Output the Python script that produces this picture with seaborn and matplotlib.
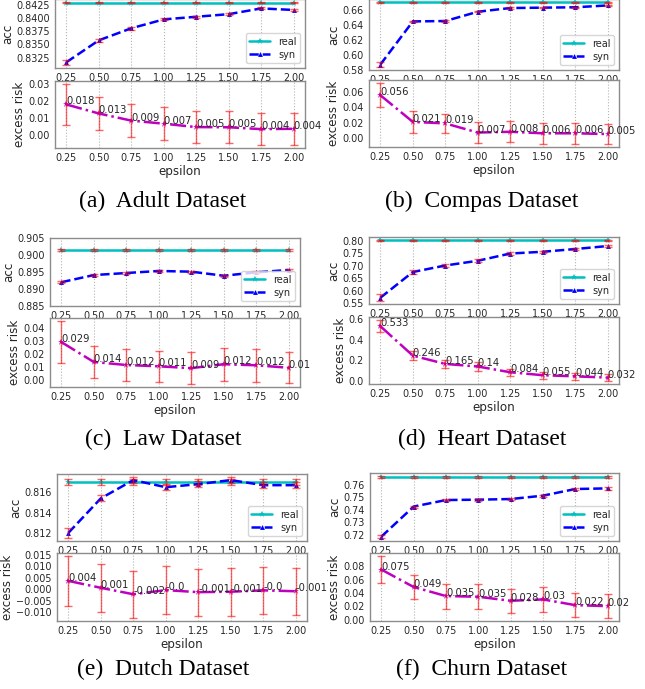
import matplotlib
matplotlib.use('Agg')
import matplotlib.pyplot as plt
import seaborn as sns

eps = [0.25, 0.50, 0.75, 1.00, 1.25, 1.50, 1.75, 2.00]

# (a) Adult
adult_real = [0.8430, 0.8430, 0.8430, 0.8430, 0.8430, 0.8430, 0.8430, 0.8430]
adult_real_err = [0.0001, 0.0001, 0.0001, 0.0001, 0.0001, 0.0001, 0.0001, 0.0001]
adult_syn = [0.8316, 0.8358, 0.8381, 0.8398, 0.8403, 0.8408, 0.8419, 0.8416]
adult_syn_err = [0.0005, 0.0003, 0.0003, 0.0002, 0.0002, 0.0002, 0.0002, 0.0002]
adult_risk = [0.0181, 0.0128, 0.0086, 0.0068, 0.0048, 0.0047, 0.0036, 0.0038]
adult_risk_err = [0.0120, 0.0095, 0.0097, 0.0097, 0.0093, 0.0093, 0.0093, 0.0093]
adult_labels = ['0.018', '0.013', '0.009', '0.007', '0.005', '0.005', '0.004', '0.004']

# (b) Compas
compas_real = [0.6705, 0.6705, 0.6705, 0.6705, 0.6705, 0.6705, 0.6705, 0.6705]
compas_real_err = [0.0003, 0.0003, 0.0003, 0.0003, 0.0003, 0.0003, 0.0003, 0.0003]
compas_syn = [0.5870, 0.6450, 0.6455, 0.6580, 0.6630, 0.6635, 0.6640, 0.6665]
compas_syn_err = [0.0030, 0.0010, 0.0008, 0.0008, 0.0008, 0.0008, 0.0008, 0.0010]
compas_risk = [0.0560, 0.0210, 0.0190, 0.0070, 0.0080, 0.0060, 0.0060, 0.0050]
compas_risk_err = [0.0160, 0.0145, 0.0130, 0.0140, 0.0135, 0.0135, 0.0135, 0.0130]
compas_labels = ['0.056', '0.021', '0.019', '0.007', '0.008', '0.006', '0.006', '0.005']

# (c) Law
law_real = [0.9015, 0.9015, 0.9015, 0.9015, 0.9015, 0.9015, 0.9015, 0.9015]
law_real_err = [0.0002, 0.0002, 0.0002, 0.0002, 0.0002, 0.0002, 0.0002, 0.0002]
law_syn = [0.8920, 0.8941, 0.8947, 0.8953, 0.8951, 0.8939, 0.8949, 0.8956]
law_syn_err = [0.0003, 0.0003, 0.0003, 0.0003, 0.0003, 0.0003, 0.0003, 0.0003]
law_risk = [0.0293, 0.0141, 0.0118, 0.0108, 0.0094, 0.0124, 0.0116, 0.0097]
law_risk_err = [0.0160, 0.0122, 0.0120, 0.0118, 0.0120, 0.0125, 0.0125, 0.0120]
law_labels = ['0.029', '0.014', '0.012', '0.011', '0.009', '0.012', '0.012', '0.01']

# (d) Heart
heart_real = [0.8020, 0.8020, 0.8020, 0.8020, 0.8020, 0.8020, 0.8020, 0.8020]
heart_real_err = [0.0010, 0.0010, 0.0010, 0.0010, 0.0010, 0.0010, 0.0010, 0.0010]
heart_syn = [0.5720, 0.6750, 0.7010, 0.7200, 0.7490, 0.7560, 0.7670, 0.7790]
heart_syn_err = [0.0130, 0.0080, 0.0060, 0.0060, 0.0050, 0.0040, 0.0040, 0.0040]
heart_risk = [0.533, 0.246, 0.165, 0.140, 0.084, 0.055, 0.044, 0.032]
heart_risk_err = [0.060, 0.045, 0.040, 0.040, 0.035, 0.035, 0.035, 0.033]
heart_labels = ['0.533', '0.246', '0.165', '0.14', '0.084', '0.055', '0.044', '0.032']

# (e) Dutch
dutch_real = [0.8170, 0.8170, 0.8170, 0.8170, 0.8170, 0.8170, 0.8170, 0.8170]
dutch_real_err = [0.0003, 0.0003, 0.0003, 0.0003, 0.0003, 0.0003, 0.0003, 0.0003]
dutch_syn = [0.8120, 0.8154, 0.8172, 0.8165, 0.8168, 0.8172, 0.8167, 0.8167]
dutch_syn_err = [0.0005, 0.0003, 0.0003, 0.0003, 0.0003, 0.0003, 0.0003, 0.0003]
dutch_risk = [0.0037, 0.0007, -0.0021, -0.0003, -0.0012, -0.0010, -0.0004, -0.0008]
dutch_risk_err = [0.0108, 0.0105, 0.0103, 0.0105, 0.0103, 0.0105, 0.0103, 0.0103]
dutch_labels = ['0.004', '0.001', '-0.002', '-0.0', '-0.001', '-0.001', '-0.0', '-0.001']

# (f) Churn
churn_real = [0.7660, 0.7660, 0.7660, 0.7660, 0.7660, 0.7660, 0.7660, 0.7660]
churn_real_err = [0.0008, 0.0008, 0.0008, 0.0008, 0.0008, 0.0008, 0.0008, 0.0008]
churn_syn = [0.7185, 0.7425, 0.7477, 0.7480, 0.7485, 0.7512, 0.7565, 0.7570]
churn_syn_err = [0.0010, 0.0008, 0.0008, 0.0008, 0.0008, 0.0008, 0.0008, 0.0010]
churn_risk = [0.0750, 0.0490, 0.0355, 0.0345, 0.0285, 0.0305, 0.0220, 0.0205]
churn_risk_err = [0.0200, 0.0185, 0.0185, 0.0185, 0.0175, 0.0185, 0.0180, 0.0175]
churn_labels = ['0.075', '0.049', '0.035', '0.035', '0.028', '0.03', '0.022', '0.02']

W, H = 645, 689
sns.set_style('white')
plt.rcParams['font.family'] = ['DejaVu Sans']
fig = plt.figure(figsize=(W / 100, H / 100), dpi=100)


def box(l, t, r, b):
    return [l / W, 1 - b / H, (r - l) / W, (b - t) / H]


def style_ax(ax):
    for s in ax.spines.values():
        s.set_color('0.55')
        s.set_linewidth(1.0)
    ax.set_xticks(eps)
    ax.set_xticklabels(['%.2f' % e for e in eps])
    ax.tick_params(labelsize=6.9, colors='0.3', labelcolor='0.15',
                   length=2.5, width=0.8, pad=1.2)
    ax.grid(axis='x', linestyle=':', color='0.7', linewidth=0.8)


def panel(acc_pos, risk_pos, real, real_err, syn, syn_err, risk, risk_err,
          labels, acc_ticks, risk_ticks, caption, cap_x, cap_y, acc_lim=None):
    ax1 = fig.add_axes(box(*acc_pos))
    sns.lineplot(x=eps, y=real, ax=ax1, color='c', marker='*', markersize=5,
                 linewidth=1.8, label='real', markeredgewidth=0)
    sns.lineplot(x=eps, y=syn, ax=ax1, color='b', marker='^', markersize=3.5,
                 linewidth=1.8, linestyle='--', label='syn', markeredgewidth=0)
    ax1.errorbar(eps, real, yerr=real_err, fmt='none', ecolor='red', alpha=0.6,
                 capsize=3, elinewidth=1.0, zorder=4)
    ax1.errorbar(eps, syn, yerr=syn_err, fmt='none', ecolor='red', alpha=0.6,
                 capsize=3, elinewidth=1.0, zorder=4)
    style_ax(ax1)
    ax1.set_yticks(acc_ticks)
    if acc_lim is not None:
        ax1.set_ylim(*acc_lim)
    ax1.set_ylabel('acc', fontsize=8.6, color='0.15', labelpad=1.5)
    ax1.legend(loc='lower right', fontsize=7, frameon=True, handlelength=2.2,
               borderpad=0.35, labelspacing=0.3, handletextpad=0.8)

    ax2 = fig.add_axes(box(*risk_pos))
    sns.lineplot(x=eps, y=risk, ax=ax2, color='m', marker='*', markersize=5,
                 linewidth=1.8, linestyle='-.', markeredgewidth=0)
    ax2.errorbar(eps, risk, yerr=risk_err, fmt='none', ecolor='red', alpha=0.6,
                 capsize=3, elinewidth=1.0, zorder=4)
    for x, y, s in zip(eps, risk, labels):
        ax2.annotate(s, (x, y), fontsize=7.2, color='0.15', zorder=5)
    style_ax(ax2)
    ax2.set_yticks(risk_ticks)
    ax2.set_ylabel('excess risk', fontsize=8.6, color='0.15', labelpad=1.5)
    ax2.set_xlabel('epsilon', fontsize=8.6, color='0.15', labelpad=1.5)

    fig.text(cap_x / W, 1 - cap_y / H, caption, ha='center', va='center',
             fontsize=17, family='Liberation Serif', color='black')


panel((55, -1, 305, 68), (55, 81, 305, 148), adult_real, adult_real_err,
      adult_syn, adult_syn_err, adult_risk, adult_risk_err, adult_labels,
      [0.8325, 0.8350, 0.8375, 0.8400, 0.8425], [0.00, 0.01, 0.02, 0.03],
      '(a)  Adult Dataset', 163, 201)
panel((369, -1, 619, 70), (369, 80, 619, 147), compas_real, compas_real_err,
      compas_syn, compas_syn_err, compas_risk, compas_risk_err, compas_labels,
      [0.58, 0.60, 0.62, 0.64, 0.66], [0.00, 0.02, 0.04, 0.06],
      '(b)  Compas Dataset', 482, 201)
panel((50, 238, 300, 306), (50, 318, 300, 387), law_real, law_real_err,
      law_syn, law_syn_err, law_risk, law_risk_err, law_labels,
      [0.885, 0.890, 0.895, 0.900, 0.905], [0.00, 0.01, 0.02, 0.03, 0.04],
      '(c)  Law Dataset', 163, 439, acc_lim=(0.885, 0.905))
panel((369, 237, 619, 304), (369, 317, 619, 384), heart_real, heart_real_err,
      heart_syn, heart_syn_err, heart_risk, heart_risk_err, heart_labels,
      [0.55, 0.60, 0.65, 0.70, 0.75, 0.80], [0.0, 0.2, 0.4, 0.6],
      '(d)  Heart Dataset', 482, 439)
panel((57, 474, 307, 541), (57, 553, 307, 621), dutch_real, dutch_real_err,
      dutch_syn, dutch_syn_err, dutch_risk, dutch_risk_err, dutch_labels,
      [0.812, 0.814, 0.816], [-0.010, -0.005, 0.000, 0.005, 0.010, 0.015],
      '(e)  Dutch Dataset', 163, 669)
panel((370, 473, 619, 541), (370, 553, 619, 621), churn_real, churn_real_err,
      churn_syn, churn_syn_err, churn_risk, churn_risk_err, churn_labels,
      [0.72, 0.73, 0.74, 0.75, 0.76], [0.00, 0.02, 0.04, 0.06, 0.08],
      '(f)  Churn Dataset', 482, 669)

fig.savefig('out.png', dpi=100)
